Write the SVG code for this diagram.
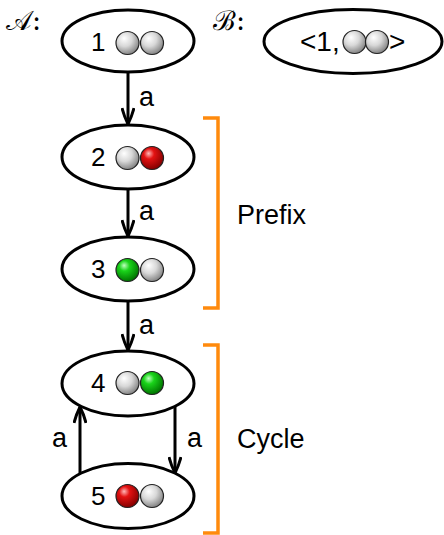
<svg xmlns="http://www.w3.org/2000/svg" width="444" height="535" viewBox="0 0 444 535">
  <style>
    .node { fill: #fff; stroke: #000; stroke-width: 3; }
    .lbl { font-family: "Liberation Sans", Arial, sans-serif; font-size: 27px; fill: #000; }
    .num { font-family: "Liberation Sans", Arial, sans-serif; font-size: 26px; fill: #000; }
    .tup { font-family: "Liberation Sans", Arial, sans-serif; font-size: 28px; fill: #000; }
    .cal { font-family: "DejaVu Serif", "Liberation Serif", serif; font-size: 27px; fill: #000; }
    .edge { fill: none; stroke: #000; stroke-width: 3; }
    .brace { fill: none; stroke: #ff8a0d; stroke-width: 3.5; }
    .ball { stroke: #222; stroke-width: 1.2; }
  </style>
  <defs>
    <radialGradient id="gGray" cx="0.4" cy="0.35" r="0.65" fx="0.35" fy="0.3">
      <stop offset="0" stop-color="#ffffff"/>
      <stop offset="0.5" stop-color="#d8d8d8"/>
      <stop offset="1" stop-color="#858585"/>
    </radialGradient>
    <radialGradient id="gRed" cx="0.4" cy="0.35" r="0.65" fx="0.35" fy="0.3">
      <stop offset="0" stop-color="#ffb8b8"/>
      <stop offset="0.35" stop-color="#e41212"/>
      <stop offset="1" stop-color="#850000"/>
    </radialGradient>
    <radialGradient id="gGreen" cx="0.4" cy="0.35" r="0.65" fx="0.35" fy="0.3">
      <stop offset="0" stop-color="#c0ffc0"/>
      <stop offset="0.35" stop-color="#1ad41a"/>
      <stop offset="1" stop-color="#007400"/>
    </radialGradient>
    <marker id="arr" viewBox="0 0 20 14" refX="18" refY="7" markerWidth="20" markerHeight="14" markerUnits="userSpaceOnUse" orient="auto">
      <path d="M2,1 Q10,3 18,7 Q10,11 2,13" fill="none" stroke="#000" stroke-width="3"/>
    </marker>
  </defs>

  <!-- automaton labels -->
  <text class="cal" x="6" y="30">𝒜:</text>
  <text class="cal" x="213" y="30">ℬ:</text>

  <!-- connectors -->
  <g id="edges">
    <line class="edge" x1="128" y1="73" x2="128" y2="124" marker-end="url(#arr)"/>
    <text class="lbl" x="139" y="106">a</text>
    <line class="edge" x1="128" y1="189" x2="128" y2="236" marker-end="url(#arr)"/>
    <text class="lbl" x="139" y="220">a</text>
    <line class="edge" x1="128" y1="301" x2="128" y2="350" marker-end="url(#arr)"/>
    <text class="lbl" x="139" y="334">a</text>
    <line class="edge" x1="175" y1="407" x2="175" y2="473" marker-end="url(#arr)"/>
    <text class="lbl" x="187" y="447">a</text>
    <line class="edge" x1="80" y1="473" x2="80" y2="407" marker-end="url(#arr)"/>
    <text class="lbl" x="52" y="447">a</text>
  </g>

  <!-- states of A -->
  <g id="n1">
    <ellipse class="node" cx="128" cy="41" rx="66" ry="31"/>
    <text class="num" x="91" y="51">1</text>
    <circle class="ball" cx="127.5" cy="43" r="11.5" fill="url(#gGray)"/>
    <circle class="ball" cx="152" cy="43" r="11.5" fill="url(#gGray)"/>
  </g>
  <g id="n2">
    <ellipse class="node" cx="128" cy="157" rx="66" ry="32"/>
    <text class="num" x="91" y="166">2</text>
    <circle class="ball" cx="127.5" cy="158" r="11.5" fill="url(#gGray)"/>
    <circle class="ball" cx="152" cy="158" r="11.5" fill="url(#gRed)"/>
  </g>
  <g id="n3">
    <ellipse class="node" cx="128" cy="269" rx="66" ry="32"/>
    <text class="num" x="91" y="278">3</text>
    <circle class="ball" cx="127.5" cy="270" r="11.5" fill="url(#gGreen)"/>
    <circle class="ball" cx="152" cy="270" r="11.5" fill="url(#gGray)"/>
  </g>
  <g id="n4">
    <ellipse class="node" cx="128" cy="383.5" rx="66" ry="32.5"/>
    <text class="num" x="91" y="392">4</text>
    <circle class="ball" cx="127.5" cy="383" r="11.5" fill="url(#gGray)"/>
    <circle class="ball" cx="152" cy="383" r="11.5" fill="url(#gGreen)"/>
  </g>
  <g id="n5">
    <ellipse class="node" cx="128" cy="496" rx="66" ry="32.5"/>
    <text class="num" x="91" y="505">5</text>
    <circle class="ball" cx="127.5" cy="496" r="11.5" fill="url(#gRed)"/>
    <circle class="ball" cx="152" cy="496" r="11.5" fill="url(#gGray)"/>
  </g>

  <!-- state of B -->
  <g id="b1">
    <ellipse class="node" cx="353" cy="41.5" rx="89" ry="32"/>
    <text class="tup" x="300" y="51">&lt;1,</text>
    <circle class="ball" cx="354.5" cy="42" r="11.5" fill="url(#gGray)"/>
    <circle class="ball" cx="377" cy="42" r="11.5" fill="url(#gGray)"/>
    <text class="tup" x="389" y="51">&gt;</text>
  </g>

  <!-- run segments -->
  <g id="prefix">
    <path class="brace" d="M203,118 H218 V308 H203"/>
    <text class="lbl" x="237" y="224">Prefix</text>
  </g>
  <g id="cycle">
    <path class="brace" d="M203,345 H218 V533 H203"/>
    <text class="lbl" x="237" y="448">Cycle</text>
  </g>
</svg>
